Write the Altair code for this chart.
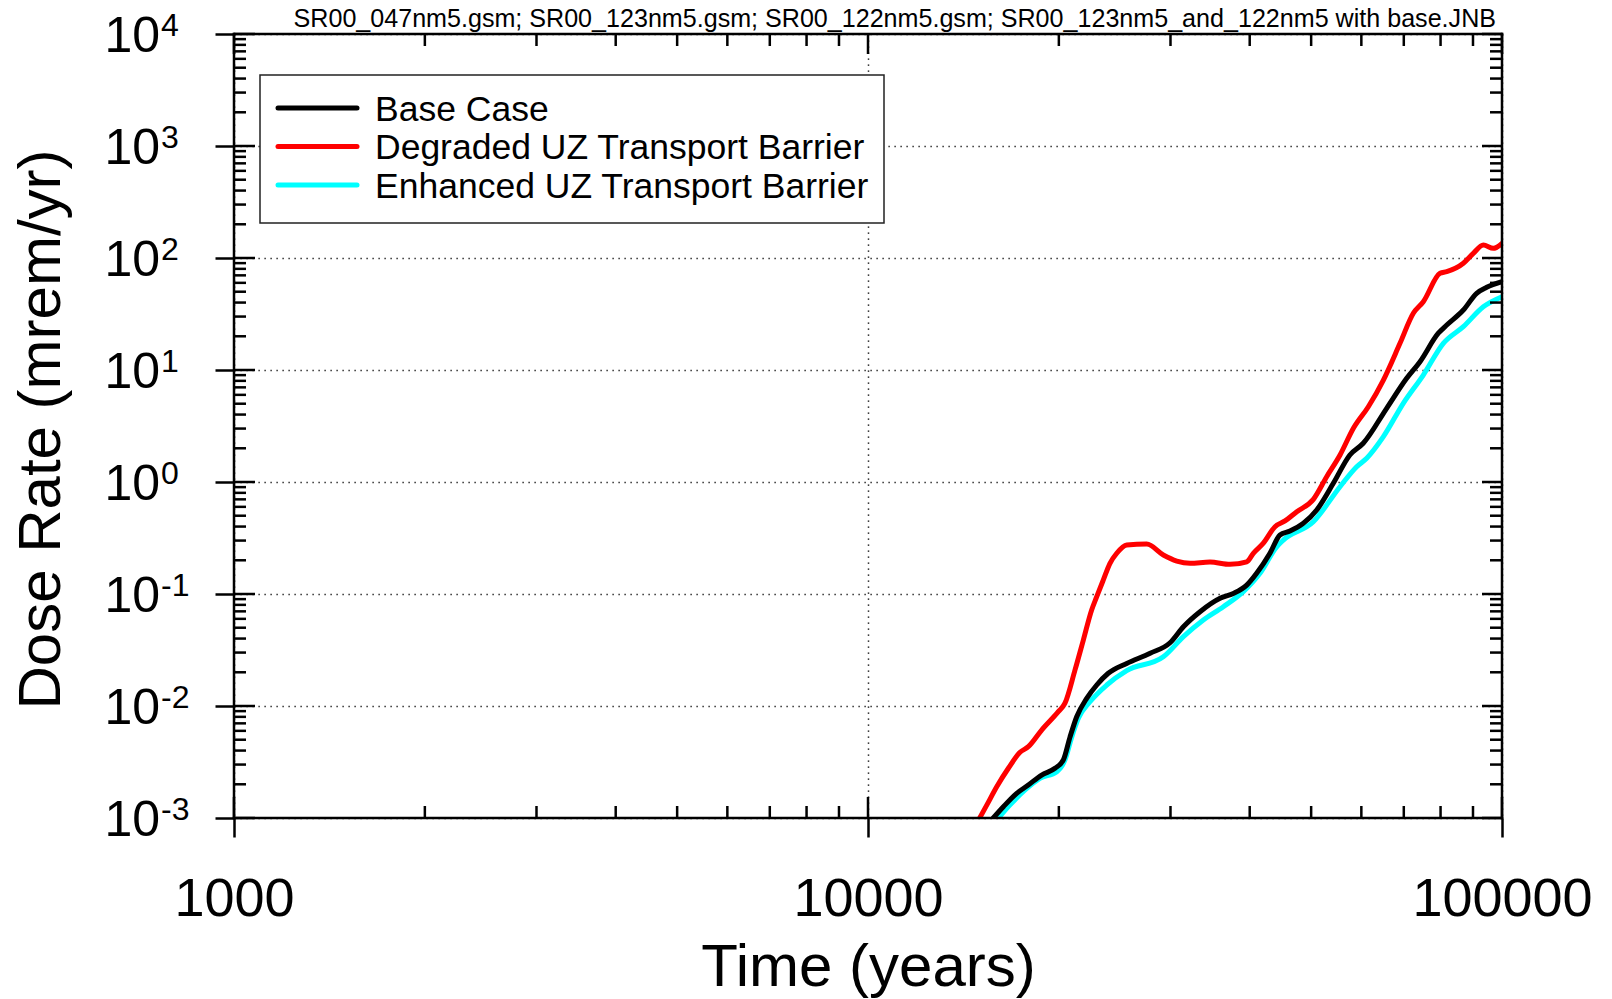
import altair as alt
import pandas as pd

# ---- dose-rate histories (time in years, dose rate in mrem/yr) ----
base_time = [15760, 16350, 17160, 17900, 18790, 19720, 20330, 20830, 21340, 22130,
             22950, 23930, 25590, 27860, 29950, 31440, 33400, 35920, 37690, 39570,
             41020, 43050, 44650, 46300, 51020, 54190, 57550, 60410, 65780, 70740,
             74250, 79350, 81820, 86900, 91200, 94600, 100000]
base_dose = [0.001, 0.00126, 0.00166, 0.00197, 0.00242, 0.00278, 0.0033, 0.0053, 0.00802, 0.0117,
             0.0154, 0.0196, 0.024, 0.0296, 0.0367, 0.051, 0.0695, 0.0916, 0.101, 0.120,
             0.153, 0.231, 0.336, 0.365, 0.562, 0.973, 1.742, 2.216, 4.55, 8.43,
             11.86, 21.3, 25.2, 34.3, 48.4, 54.7, 61.4]

degraded_time = [15000, 15400, 15960, 16650, 17370, 17900, 18790, 19960, 20450, 21210,
                 21860, 22530, 22950, 23500, 24080, 24680, 25590, 27520, 29230, 30690,
                 32210, 34630, 37240, 39570, 40530, 42030, 43850, 45470, 47460, 50400,
                 52900, 55530, 58290, 61540, 65000, 69040, 72460, 75140, 79850, 81820,
                 86900, 90100, 93440, 96900, 100000]
degraded_dose = [0.001, 0.00131, 0.0019, 0.00278, 0.00386, 0.00433, 0.0061, 0.0089, 0.0106, 0.021,
                 0.0388, 0.072, 0.0946, 0.133, 0.188, 0.231, 0.274, 0.279, 0.223, 0.197,
                 0.188, 0.193, 0.184, 0.194, 0.231, 0.284, 0.399, 0.449, 0.543, 0.70,
                 1.115, 1.742, 3.02, 4.70, 8.14, 17.3, 32.1, 40.7, 73.0, 75.5,
                 89.7, 110, 130.6, 122, 135]

enhanced_time = [16060, 16750, 17690, 18670, 19850, 20450, 20960, 21470, 22390, 23800,
                 25590, 29230, 31440, 33800, 36350, 39080, 41520, 44120, 45190, 50400,
                 55530, 58990, 61180, 65000, 69870, 75140, 80810, 86900, 93440, 100000]
enhanced_dose = [0.001, 0.00131, 0.00178, 0.00226, 0.00259, 0.0033, 0.0053, 0.00776, 0.0109, 0.0154,
                 0.0207, 0.0275, 0.0416, 0.0586, 0.077, 0.105, 0.153, 0.264, 0.303, 0.442,
                 0.908, 1.37, 1.63, 2.54, 5.04, 9.02, 17.3, 24.4, 36.7, 45.1]

series_names = ["Base Case", "Degraded UZ Transport Barrier", "Enhanced UZ Transport Barrier"]
series_colors = ["#000000", "#ff0000", "#00ffff"]

# ---- axis ticks ----
x_major = [1000, 10000, 100000]
x_minor = [2000, 3000, 4000, 5000, 6000, 7000, 8000, 9000,
           20000, 30000, 40000, 50000, 60000, 70000, 80000, 90000]
y_exponents = [-3, -2, -1, 0, 1, 2, 3, 4]
y_major = [10.0 ** k for k in y_exponents]
y_minor = [m * 10.0 ** k for k in range(-3, 4) for m in range(2, 10)]

header = "SR00_047nm5.gsm; SR00_123nm5.gsm; SR00_122nm5.gsm; SR00_123nm5_and_122nm5 with base.JNB"

W, H = 1268, 784
FONT = "Liberation Sans"

xs = alt.Scale(type="log", domain=[1000, 100000], nice=False)
ys = alt.Scale(type="log", domain=[0.001, 10000], nice=False)

x_axis = alt.Axis(
    values=x_major, format="d", labelFontSize=54, labelFont=FONT, labelColor="black",
    labelPadding=35, labelFlush=False, labelOverlap=False, labelLimit=500,
    tickSize=19, tickWidth=2.5, tickColor="black", domain=False,
    grid=True, gridDash=[1.2, 4.8], gridColor="black", gridWidth=1.5, gridOpacity=1,
    title="Time (years)", titleFontSize=60, titleFont=FONT, titleFontWeight="normal",
    titleColor="black", titleX=W / 2, titleY=167, titleAlign="center",
    titleBaseline="alphabetic", titleLimit=1000,
)
y_axis = alt.Axis(
    values=y_major, labels=False,
    tickSize=19, tickWidth=2.5, tickColor="black", domain=False,
    grid=True, gridDash=[1.2, 4.8], gridColor="black", gridWidth=1.5, gridOpacity=1,
    title="Dose Rate (mrem/yr)", titleFontSize=60, titleFont=FONT, titleFontWeight="normal",
    titleColor="black", titleAngle=270, titleX=-175, titleY=395, titleAlign="center",
    titleBaseline="alphabetic", titleLimit=1000,
)

X = lambda f: alt.X(f, scale=xs, axis=x_axis)
Y = lambda f: alt.Y(f, scale=ys, axis=y_axis)


def curve(t, d, color):
    df = pd.DataFrame({"t": t, "dose": d})
    return alt.Chart(df).mark_line(
        color=color, strokeWidth=5, interpolate="monotone",
        strokeJoin="round", strokeCap="round", clip=True,
    ).encode(x=X("t:Q"), y=Y("dose:Q"))


def hticks(values, x0, x1):
    df = pd.DataFrame({"v": values})
    return alt.Chart(df).mark_rule(color="black", strokeWidth=2.5).encode(
        y=Y("v:Q"), x=alt.value(x0), x2=alt.value(x1)
    )


def vticks(values, y0, y1):
    df = pd.DataFrame({"v": values})
    return alt.Chart(df).mark_rule(color="black", strokeWidth=2.5).encode(
        x=X("v:Q"), y=alt.value(y0), y2=alt.value(y1)
    )


one = pd.DataFrame({"k": [0]})


def frame_edge(x0, x1, y0, y1):
    return alt.Chart(one).mark_rule(color="black", strokeWidth=2.5, strokeCap="square").encode(
        x=alt.value(x0), x2=alt.value(x1), y=alt.value(y0), y2=alt.value(y1)
    )


layers = [
    curve(enhanced_time, enhanced_dose, series_colors[2]),
    curve(degraded_time, degraded_dose, series_colors[1]),
    curve(base_time, base_dose, series_colors[0]),
    # plot frame
    frame_edge(0, W, 0, 0), frame_edge(0, W, H, H),
    frame_edge(0, 0, 0, H), frame_edge(W, W, 0, H),
    # inward ticks on all four sides of the frame
    hticks(y_major, 0, 21), hticks(y_major, W - 20, W),
    hticks(y_minor, 0, 12), hticks(y_minor, W - 12, W),
    vticks(x_major, H, H - 21), vticks(x_major, 0, 20),
    vticks(x_minor, H, H - 12), vticks(x_minor, 0, 12),
]

# y tick labels written as 10 with a raised exponent
ylab = pd.DataFrame({"v": y_major, "exp": [str(k) for k in y_exponents]})
layers.append(
    alt.Chart(ylab).mark_text(
        text="10", align="left", baseline="alphabetic", fontSize=50, dy=18,
        font=FONT, color="black",
    ).encode(y=Y("v:Q"), x=alt.value(-129.5))
)
layers.append(
    alt.Chart(ylab).mark_text(
        align="left", baseline="alphabetic", fontSize=32, dy=2.4, font=FONT, color="black",
    ).encode(y=Y("v:Q"), x=alt.value(-73), text="exp:N")
)

# legend box
layers.append(
    alt.Chart(one).mark_rect(fill="white", stroke="#222222", strokeWidth=1.5).encode(
        x=alt.value(26), x2=alt.value(650), y=alt.value(41), y2=alt.value(189)
    )
)
for i, (name, color) in enumerate(zip(series_names, series_colors)):
    row_y = 74 + 38.5 * i
    layers.append(
        alt.Chart(one).mark_rule(color=color, strokeWidth=5, strokeCap="round").encode(
            x=alt.value(44), x2=alt.value(123), y=alt.value(row_y)
        )
    )
    layers.append(
        alt.Chart(one).mark_text(
            text=name, align="left", baseline="alphabetic", fontSize=35.5, font=FONT,
            color="black",
        ).encode(x=alt.value(141), y=alt.value(row_y + 12.5))
    )

# run-file caption above the frame
layers.append(
    alt.Chart(one).mark_text(
        text=header, align="right", baseline="alphabetic", fontSize=25.1, font=FONT,
        color="black",
    ).encode(x=alt.value(1262), y=alt.value(-7))
)

chart = alt.layer(*layers).properties(
    width=W, height=H,
    autosize=alt.AutoSizeParams(type="none"),
    padding={"left": 234, "top": 34, "right": 110, "bottom": 181},
).configure_view(
    stroke=None, fill="white"
).configure(
    background="white", font=FONT
)

chart.save("out.html", embed_options={"renderer": "svg", "actions": False})
